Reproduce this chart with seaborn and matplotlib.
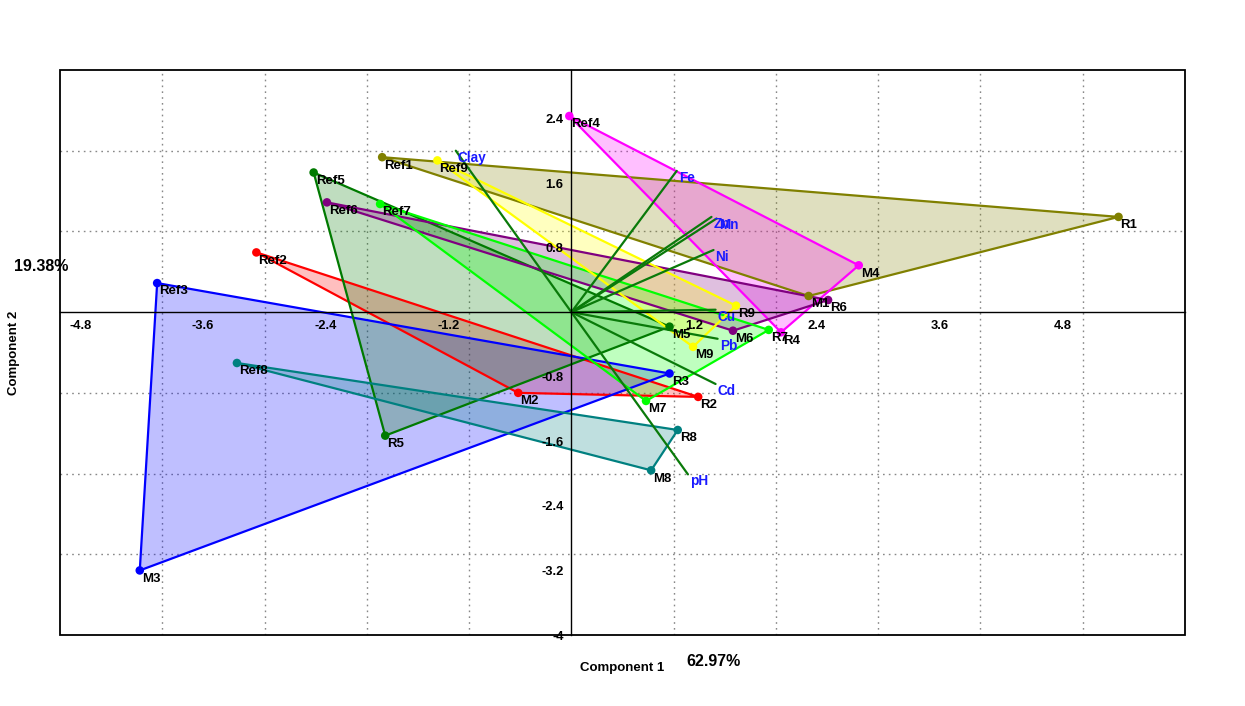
import matplotlib
matplotlib.use("Agg")
import matplotlib.pyplot as plt
from matplotlib.patches import Polygon, Rectangle
import seaborn as sns
import pandas as pd

# ---- data ----
sites = ["1", "2", "3", "4", "5", "6", "7", "8", "9"]
ref_x = [-1.85, -3.08, -4.05, -0.02, -2.52, -2.39, -1.87, -3.27, -1.31]
ref_y = [1.92, 0.74, 0.36, 2.43, 1.73, 1.36, 1.34, -0.63, 1.88]
r_x = [5.35, 1.24, 0.96, 2.05, -1.82, 2.51, 1.93, 1.04, 1.61]
r_y = [1.18, -1.05, -0.76, -0.25, -1.53, 0.15, -0.22, -1.46, 0.08]
m_x = [2.32, -0.52, -4.22, 2.81, 0.96, 1.58, 0.73, 0.78, 1.19]
m_y = [0.20, -1.00, -3.20, 0.58, -0.18, -0.23, -1.10, -1.96, -0.43]

var_names = ["Clay", "Fe", "Zn", "Mn", "Ni", "Cu", "Pb", "Cd", "pH"]
load_x = [-1.13, 1.03, 1.37, 1.42, 1.39, 1.41, 1.43, 1.41, 1.14]
load_y = [2.00, 1.75, 1.18, 1.16, 0.77, 0.03, -0.33, -0.89, -2.01]

xtick_vals = [-4.8, -3.6, -2.4, -1.2, 1.2, 2.4, 3.6, 4.8]
xtick_labels = ["-4.8", "-3.6", "-2.4", "-1.2", "1.2", "2.4", "3.6", "4.8"]
ytick_vals = [2.4, 1.6, 0.8, -0.8, -1.6, -2.4, -3.2, -4.0]
ytick_labels = ["2.4", "1.6", "0.8", "-0.8", "-1.6", "-2.4", "-3.2", "-4"]
xgrid_vals = [-4, -3, -2, -1, 1, 2, 3, 4, 5]
ygrid_vals = [-3, -2, -1, 1, 2]

pc1_label = "62.97%"
pc2_label = "19.38%"

group_colors = ["#808000", "#ff0000", "#0000ff", "#ff00ff", "#007a00",
                "#800080", "#00ff00", "#008080", "#ffff00"]

# ---- build table ----
rows = []
for i, s in enumerate(sites):
    rows.append(("Ref" + s, ref_x[i], ref_y[i], s))
    rows.append(("R" + s, r_x[i], r_y[i], s))
    rows.append(("M" + s, m_x[i], m_y[i], s))
df = pd.DataFrame(rows, columns=["name", "pc1", "pc2", "site"])

sns.set_theme(style="white")
plt.rcParams["font.family"] = ["Liberation Sans", "DejaVu Sans"]
plt.rcParams["axes.unicode_minus"] = False

fig = plt.figure(figsize=(12.45, 7.06), dpi=100)
ax = fig.add_axes([60 / 1245, 1 - 635 / 706, 1125 / 1245, 565 / 706])
ax.set_xlim(-5, 6)
ax.set_ylim(-4, 3)

# dotted grid (kept underneath everything)
for gx in xgrid_vals:
    ax.axvline(gx, linestyle=(0, (1.2, 3)), color="#888888", lw=1, zorder=1)
for gy in ygrid_vals:
    ax.axhline(gy, linestyle=(0, (1.2, 3)), color="#888888", lw=1, zorder=1)

# convex hulls (triangles)
for i, s in enumerate(sites):
    sub = df[df.site == s]
    pts = list(zip(sub.pc1, sub.pc2))
    col = group_colors[i]
    ax.add_patch(Polygon(pts, closed=True, facecolor=col, alpha=0.25,
                         edgecolor="none", zorder=2))
    ax.add_patch(Polygon(pts, closed=True, fill=False, edgecolor=col,
                         lw=1.6, zorder=2.2))

# loading vectors
for name, lx, ly in zip(var_names, load_x, load_y):
    ax.plot([0, lx], [0, ly], color="#0a7a0a", lw=1.6, zorder=3)
    ax.annotate(name, (lx, ly), xytext=(1.5, -5), textcoords="offset points",
                ha="left", va="center", color="#1a1aff", fontsize=9.8,
                fontweight="bold", zorder=6)

# points
sns.scatterplot(data=df, x="pc1", y="pc2", hue="site", palette=group_colors,
                s=38, edgecolor="none", legend=False, ax=ax, zorder=4)
for _, r in df.iterrows():
    ax.annotate(r["name"], (r.pc1, r.pc2), xytext=(1.5, -6),
                textcoords="offset points", ha="left", va="center",
                color="black", fontsize=9.5, fontweight="bold", zorder=6)

# axes through origin
for side in ["top", "right"]:
    ax.spines[side].set_visible(False)
ax.spines["left"].set_position(("data", 0))
ax.spines["bottom"].set_position(("data", 0))
for side in ["left", "bottom"]:
    ax.spines[side].set_color("black")
    ax.spines[side].set_linewidth(1.0)
    ax.spines[side].set_zorder(3.5)
ax.add_patch(Rectangle((0, 0), 1, 1, transform=ax.transAxes, fill=False,
                       edgecolor="black", lw=1.3, clip_on=False, zorder=7))

ax.set_xticks(xtick_vals)
ax.set_xticklabels(xtick_labels)
ax.set_yticks(ytick_vals)
ax.set_yticklabels(ytick_labels)
ax.tick_params(which="major", direction="out", length=3, width=1,
               color="black", labelsize=9.3, pad=2.5)
ax.grid(False)
for lab in ax.get_xticklabels() + ax.get_yticklabels():
    lab.set_fontweight("bold")
    lab.set_color("black")
ax.xaxis.set_zorder(5)
ax.yaxis.set_zorder(5)

ax.set_xlabel("Component 1", fontsize=9.5, fontweight="bold", color="black")
ax.set_ylabel("Component 2", fontsize=9.5, fontweight="bold", color="black")
ax.xaxis.set_label_coords(0.5, -0.047)
ax.yaxis.set_label_coords(-0.036, 0.5)

fig.text(686 / 1245, 1 - 661 / 706, pc1_label, fontsize=11.5,
         fontweight="bold", ha="left", va="center", color="black")
fig.text(14 / 1245, 1 - 267 / 706, pc2_label, fontsize=11.5,
         fontweight="bold", ha="left", va="center", color="black")

fig.savefig("out.png", dpi=100, facecolor="white")
